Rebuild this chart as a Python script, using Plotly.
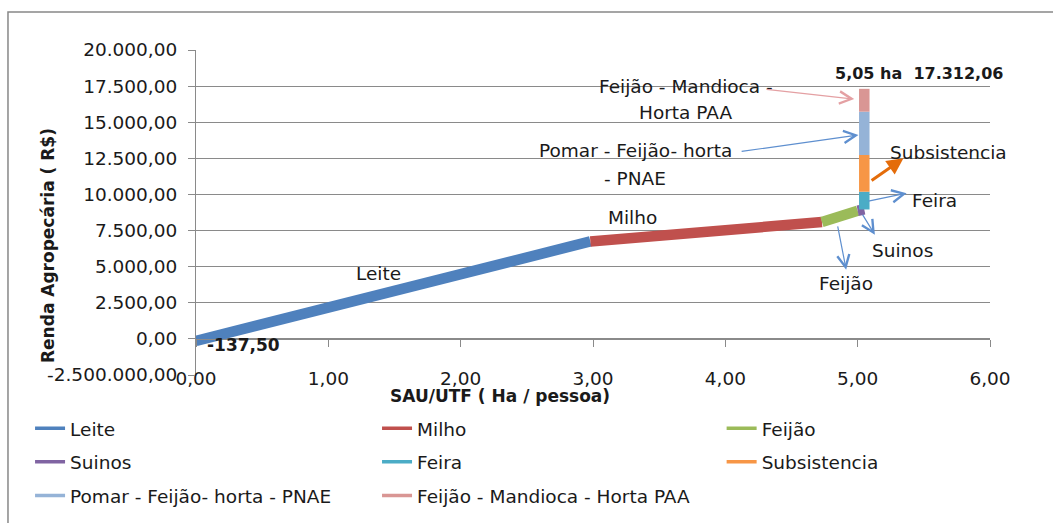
import plotly.graph_objects as go

# Activities, in the order they are added to the farm income path
activities = ["Leite", "Milho", "Feijão", "Suinos", "Feira", "Subsistencia",
              "Pomar - Feijão- horta - PNAE", "Feijão - Mandioca - Horta PAA"]
colors = ["#4F81BD", "#C0504D", "#9BBB59", "#8064A2", "#4BACC6", "#F79646",
          "#95B3D7", "#D99694"]

# Cumulative path: activity i runs from point i to point i+1
sau_utf = [0.00, 2.98, 4.73, 5.00, 5.05, 5.05, 5.05, 5.05, 5.05]
renda = [-137.50, 6745, 8086, 8870, 8960, 10190, 12730, 15730, 17312.06]

y_tick_values = [-2500, 0, 2500, 5000, 7500, 10000, 12500, 15000, 17500, 20000]
y_tick_labels = ["-2.500.000,00", "0,00", "2.500,00", "5.000,00", "7.500,00",
                 "10.000,00", "12.500,00", "15.000,00", "17.500,00", "20.000,00"]
x_tick_values = [0, 1, 2, 3, 4, 5, 6]
x_tick_labels = ["0,00", "1,00", "2,00", "3,00", "4,00", "5,00", "6,00"]

FONT = "DejaVu Sans"
TXT = "#1a1a1a"
GRID = "#8a8a8a"
FS = 18.5      # regular text size
FSB = 17       # bold text size

fig = go.Figure()

for i, (name, col) in enumerate(zip(activities, colors)):
    fig.add_trace(go.Scatter(
        x=sau_utf[i:i + 2], y=renda[i:i + 2], mode="lines",
        line=dict(color=col, width=10.5), showlegend=False, hoverinfo="skip"))

# legend entries laid out in three columns
legend_ids = ["legend", "legend2", "legend3"]
for i, (name, col) in enumerate(zip(activities, colors)):
    fig.add_trace(go.Scatter(
        x=[None], y=[None], mode="lines", name=name,
        line=dict(color=col, width=3.5),
        legend=legend_ids[i % 3], legendgroup=name))

legend_style = dict(orientation="v", yanchor="top", xanchor="left", y=-0.107,
                    tracegroupgap=6.5, itemwidth=30, bgcolor="rgba(0,0,0,0)",
                    font=dict(family=FONT, size=FS, color=TXT))

annotations = []


def label(x, y, text, bold=False, size=None, xanchor="center"):
    size = size or (FSB if bold else FS)
    annotations.append(dict(
        x=x, y=y, xref="x", yref="y", text=f"<b>{text}</b>" if bold else text,
        showarrow=False, xanchor=xanchor, yanchor="middle",
        font=dict(family=FONT, size=size, color=TXT)))


def arrow(x_tail, y_tail, x_head, y_head, color, width=1.2, head=5, size=2.0):
    annotations.append(dict(
        x=x_head, y=y_head, ax=x_tail, ay=y_tail, xref="x", yref="y",
        axref="x", ayref="y", text="", showarrow=True, arrowhead=head,
        arrowsize=size, arrowwidth=width, arrowcolor=color, standoff=0,
        startstandoff=0))


label(0.07, -400, "-137,50", bold=True, xanchor="left")
label(1.376, 4512, "Leite")
label(3.30, 8383, "Milho")
label(5.465, 18400, "5,05 ha&nbsp; 17.312,06", bold=True, size=16)
label(3.70, 17500, "Feijão - Mandioca -")
label(3.70, 15650, "Horta PAA")
label(3.32, 13050, "Pomar - Feijão- horta")
label(3.32, 11100, "- PNAE")
label(5.69, 12890, "Subsistencia")
label(5.58, 9560, "Feira")
label(5.34, 6100, "Suinos")
label(4.913, 3820, "Feijão")

arrow(4.30, 17290, 4.974, 16600, "#E4A0A3")
arrow(4.112, 12965, 5.006, 14120, "#5E8FCF")
arrow(5.094, 10890, 5.346, 12510, "#E46C0A", width=3, head=2, size=1.1)
arrow(5.07, 9510, 5.37, 10090, "#5E8FCF")
arrow(5.03, 8710, 5.13, 7210, "#5E8FCF")
arrow(4.847, 7900, 4.913, 4790, "#5E8FCF")

# axis titles
annotations.append(dict(
    x=-0.1864, y=0.40, xref="paper", yref="paper", showarrow=False,
    text="<b>Renda Agropecária ( R$)</b>", textangle=-90,
    xanchor="center", yanchor="middle",
    font=dict(family=FONT, size=FSB, color=TXT)))
annotations.append(dict(
    x=0.383, y=-0.0646, xref="paper", yref="paper", showarrow=False,
    text="<b>SAU/UTF ( Ha / pessoa)</b>", xanchor="center", yanchor="middle",
    font=dict(family=FONT, size=FSB, color=TXT)))

fig.update_layout(
    width=1053, height=523,
    margin=dict(l=196, r=63, t=50, b=148, autoexpand=False),
    paper_bgcolor="white", plot_bgcolor="white",
    font=dict(family=FONT, size=FS, color=TXT),
    annotations=annotations,
    legend=dict(legend_style, x=-0.209),
    legend2=dict(legend_style, x=0.228),
    legend3=dict(legend_style, x=0.662),
    shapes=[dict(type="rect", xref="paper", yref="paper",
                 x0=-0.2368, x1=1.2, y0=-0.6, y1=1.1169,
                 line=dict(color="#888888", width=1.5), layer="below")],
    xaxis=dict(range=[0, 6], tickvals=x_tick_values, ticktext=x_tick_labels,
               anchor="free", position=2500 / 22500,
               showgrid=False, zeroline=False, showline=True,
               linecolor=GRID, linewidth=1, ticks="outside", ticklen=7,
               tickcolor=GRID, ticklabelstandoff=16,
               tickfont=dict(family=FONT, size=FS, color=TXT)),
    yaxis=dict(range=[-2500, 20000], tickvals=y_tick_values,
               ticktext=y_tick_labels, showgrid=True, gridcolor=GRID,
               gridwidth=1, zeroline=False, showline=True, linecolor=GRID,
               ticks="outside", ticklen=7, tickcolor=GRID,
               ticklabelstandoff=7,
               tickfont=dict(family=FONT, size=FS, color=TXT)),
)

fig.write_html("out.html")
